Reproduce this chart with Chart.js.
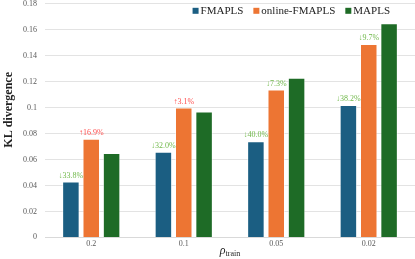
<!DOCTYPE html>
<html lang="en">
<head>
    <meta charset="UTF-8">
    <title>KL divergence</title>
    <script src="https://cdn.jsdelivr.net/npm/chart.js"></script>
    <style>
        body { margin: 0; background: #fff; overflow: hidden; }
        /* chart.js keeps ~9px above the axis; pull it up */
        #wrap { width: 415px; height: 268px; margin-top: -9px; }
    </style>
</head>
<body>
    <div id="wrap"><canvas id="barChart"></canvas></div>
    <script>
        const categories = ['0.2', '0.1', '0.05', '0.02'];
        const fmapls = [0.043, 0.066, 0.074, 0.102];
        const onlineFmapls = [0.076, 0.100, 0.114, 0.149];
        const mapls = [0.065, 0.097, 0.123, 0.165];
        // change vs MAPLS, shown above bars
        const fmaplsNotes = ['↓33.8%', '↓32.0%', '↓40.0%', '↓38.2%'];
        const onlineNotes = ['↑16.9%', '↑3.1%', '↓7.3%', '↓9.7%'];

        const serif = '"Liberation Serif", "Times New Roman", serif';

        const notesPlugin = {
            id: 'notes',
            afterDatasetsDraw(chart) {
                const ctx = chart.ctx;
                const area = chart.chartArea;
                ctx.save();
                ctx.font = '8px ' + serif;
                ctx.textAlign = 'center';
                ctx.textBaseline = 'bottom';
                [[0, fmaplsNotes], [1, onlineNotes]].forEach(([ds, notes]) => {
                    chart.getDatasetMeta(ds).data.forEach((bar, i) => {
                        const t = notes[i];
                        ctx.fillStyle = t.startsWith('↑') ? '#ff4d4d' : '#70b84a';
                        ctx.fillText(t, bar.x, bar.y - 2);
                    });
                });

                // legend, top right inside the plot
                ctx.font = '11px ' + serif;
                ctx.textAlign = 'left';
                ctx.textBaseline = 'middle';
                const items = chart.data.datasets;
                const widths = items.map(d => 8 + ctx.measureText(d.label).width);
                const total = widths.reduce((a, b) => a + b, 0) + 10 * (items.length - 1);
                let x = area.right - 25 - total;
                const ly = area.top + 7;
                items.forEach((d, i) => {
                    ctx.fillStyle = d.backgroundColor;
                    ctx.fillRect(x, ly - 3, 6, 6);
                    ctx.fillStyle = '#222';
                    ctx.fillText(d.label, x + 8, ly + 0.5);
                    x += widths[i] + 10;
                });

                // y title
                ctx.save();
                ctx.translate(9, area.top + 106);
                ctx.rotate(-Math.PI / 2);
                ctx.textAlign = 'center';
                ctx.font = 'bold 12px ' + serif;
                ctx.fillText('KL divergence', 0, 0);
                ctx.restore();

                // x title: rho_train
                const cx = (area.left + area.right) / 2;
                const y = chart.height - 3;
                ctx.fillStyle = '#222';
                ctx.textBaseline = 'alphabetic';
                ctx.font = 'italic 12px ' + serif;
                const w1 = ctx.measureText('ρ').width;
                ctx.font = '8px ' + serif;
                const w2 = ctx.measureText('train').width;
                const x0 = cx - (w1 + w2) / 2;
                ctx.font = 'italic 12px ' + serif;
                ctx.fillText('ρ', x0, y - 2);
                ctx.font = '8px ' + serif;
                ctx.fillText('train', x0 + w1, y);
                ctx.restore();
            }
        };

        new Chart(document.getElementById('barChart'), {
            type: 'bar',
            data: {
                labels: categories,
                datasets: [
                    { label: 'FMAPLS', data: fmapls, backgroundColor: '#1b5e82' },
                    { label: 'online-FMAPLS', data: onlineFmapls, backgroundColor: '#ed7533' },
                    { label: 'MAPLS', data: mapls, backgroundColor: '#1e6b26' }
                ].map(d => Object.assign(d, {
                    borderColor: 'rgba(255,255,255,0.55)',
                    borderWidth: 1,
                    categoryPercentage: 0.66,
                    barPercentage: 0.86
                }))
            },
            options: {
                responsive: true,
                maintainAspectRatio: false,
                animation: false,
                layout: { autoPadding: false, padding: { top: 4, right: 0, bottom: 8, left: 15 } },
                plugins: {
                    legend: { display: false },
                    tooltip: { enabled: false }
                },
                scales: {
                    x: {
                        grid: { display: false, drawTicks: false },
                        border: { color: '#d9d9d9' },
                        ticks: { color: '#595959', font: { family: serif, size: 8 }, padding: 2 }
                    },
                    y: {
                        min: 0,
                        max: 0.18,
                        ticks: {
                            stepSize: 0.02,
                            color: '#595959',
                            font: { family: serif, size: 8 },
                            padding: 8,
                            callback: v => +v.toFixed(2)
                        },
                        grid: { color: '#e3e3e3', drawTicks: false },
                        border: { display: false }
                    }
                }
            },
            plugins: [notesPlugin]
        });
    </script>
</body>
</html>
